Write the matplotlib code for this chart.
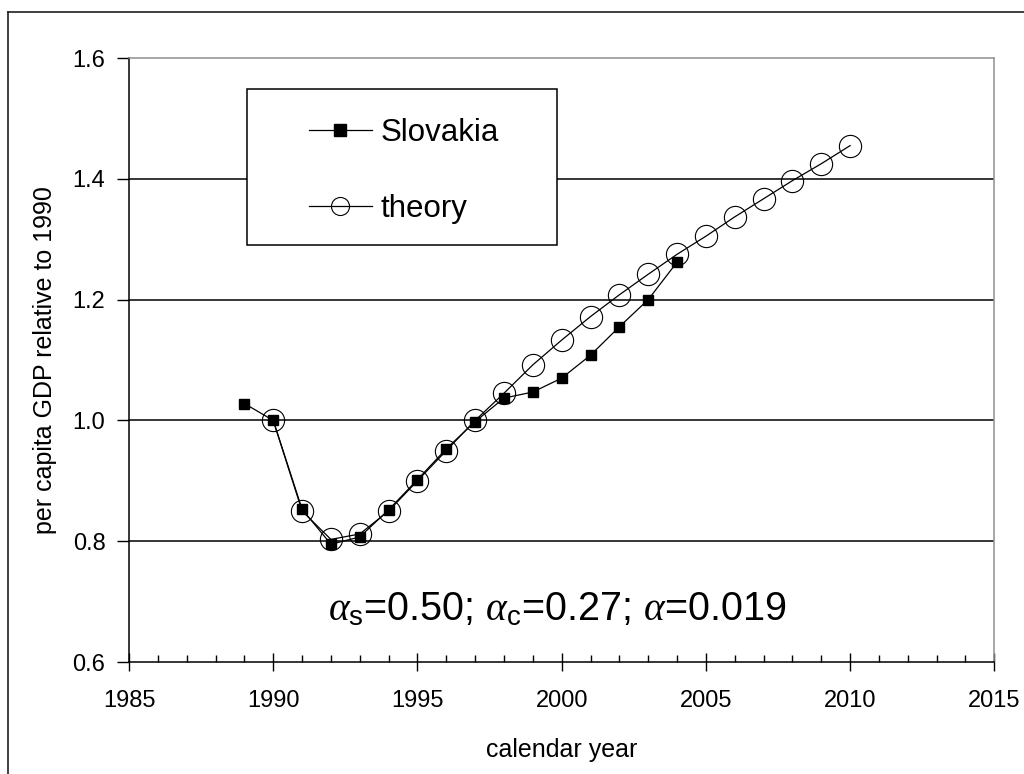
import matplotlib
matplotlib.use("Agg")
import matplotlib.pyplot as plt
from matplotlib.patches import Rectangle
from matplotlib.lines import Line2D
from matplotlib.ticker import MultipleLocator

plt.rcParams['font.family'] = ['Liberation Sans', 'DejaVu Sans']
plt.rcParams['mathtext.fontset'] = 'custom'
plt.rcParams['mathtext.rm'] = 'Liberation Sans'
plt.rcParams['mathtext.it'] = 'Liberation Serif:italic'

# data
slovakia_years = [1989, 1990, 1991, 1992, 1993, 1994, 1995, 1996, 1997,
                  1998, 1999, 2000, 2001, 2002, 2003, 2004]
slovakia_gdp = [1.028, 1.000, 0.853, 0.795, 0.807, 0.852, 0.902, 0.953, 0.998,
                1.037, 1.047, 1.070, 1.108, 1.155, 1.200, 1.262]

theory_years = [1990, 1991, 1992, 1993, 1994, 1995, 1996, 1997, 1998, 1999,
                2000, 2001, 2002, 2003, 2004, 2005, 2006, 2007, 2008, 2009, 2010]
theory_gdp = [1.000, 0.850, 0.803, 0.812, 0.850, 0.900, 0.950, 1.000, 1.045, 1.092,
              1.133, 1.172, 1.208, 1.242, 1.275, 1.305, 1.337, 1.367, 1.397, 1.425, 1.455]

y_ticks = [0.6, 0.8, 1.0, 1.2, 1.4, 1.6]
x_ticks = [1985, 1990, 1995, 2000, 2005, 2010, 2015]

fig = plt.figure(figsize=(10.24, 7.74), dpi=100)
ax = fig.add_axes([0.126, 0.1447, 0.845, 0.7803])

# outer chart border (cropped on right/bottom in the original)
fig.add_artist(Line2D([8 / 1024, 8 / 1024], [0, 1 - 12 / 774], transform=fig.transFigure,
                      color='#202020', lw=1.2))
fig.add_artist(Line2D([8 / 1024, 1], [1 - 12 / 774, 1 - 12 / 774], transform=fig.transFigure,
                      color='#202020', lw=1.2))

for yv in y_ticks[1:-1]:
    ax.axhline(yv, color='black', lw=1.1, zorder=1)

ax.plot(slovakia_years, slovakia_gdp, color='black', lw=0.9, marker='s', ms=7,
        mfc='black', mec='black', zorder=3)
ax.plot(theory_years, theory_gdp, color='black', lw=0.9, marker='o', ms=16,
        mfc='none', mec='black', mew=0.8, zorder=4)

ax.set_xlim(1985, 2015)
ax.set_ylim(0.6, 1.6)
ax.set_xticks(x_ticks)
ax.set_yticks(y_ticks)
ax.set_yticklabels([f"{v:.1f}" for v in y_ticks])
ax.xaxis.set_minor_locator(MultipleLocator(1))

ax.tick_params(axis='x', which='major', direction='inout', length=13, width=1,
               labelsize=17, pad=14)
ax.tick_params(axis='x', which='minor', direction='in', length=5, width=1)
ax.tick_params(axis='y', which='major', direction='out', length=9, width=1,
               labelsize=17, pad=8)

for side in ['left', 'bottom']:
    ax.spines[side].set_color('black')
    ax.spines[side].set_linewidth(1.1)
for side in ['top', 'right']:
    ax.spines[side].set_color('#909090')
    ax.spines[side].set_linewidth(1.1)

ax.set_xlabel('calendar year', fontsize=18)
ax.set_ylabel('per capita GDP relative to 1990', fontsize=18)
ax.xaxis.set_label_coords(0.5, -0.126)
ax.yaxis.set_label_coords(-0.083, 0.5)

# legend box
ax.add_patch(Rectangle((0.136, 0.691), 0.359, 0.2575, transform=ax.transAxes,
                       facecolor='white', edgecolor='black', lw=1.1, zorder=5))
handles = [
    Line2D([], [], color='black', lw=0.9, marker='s', ms=8.5, mfc='black', mec='black'),
    Line2D([], [], color='black', lw=0.9, marker='o', ms=13, mfc='none', mec='black', mew=0.8),
]
leg = ax.legend(handles, ['Slovakia', 'theory'], loc='upper left',
                bbox_to_anchor=(0.19, 0.927), frameon=False,
                fontsize=22.5, borderpad=0, handlelength=2.0, handletextpad=0.3,
                labelspacing=1.48)
leg.set_zorder(6)

ax.text(0.495, 0.088, r'$\alpha_{\rm s}$=0.50; $\alpha_{\rm c}$=0.27; $\alpha$=0.019',
        transform=ax.transAxes, ha='center', va='center', fontsize=28.5, zorder=6)

fig.savefig('out.png', dpi=100)
